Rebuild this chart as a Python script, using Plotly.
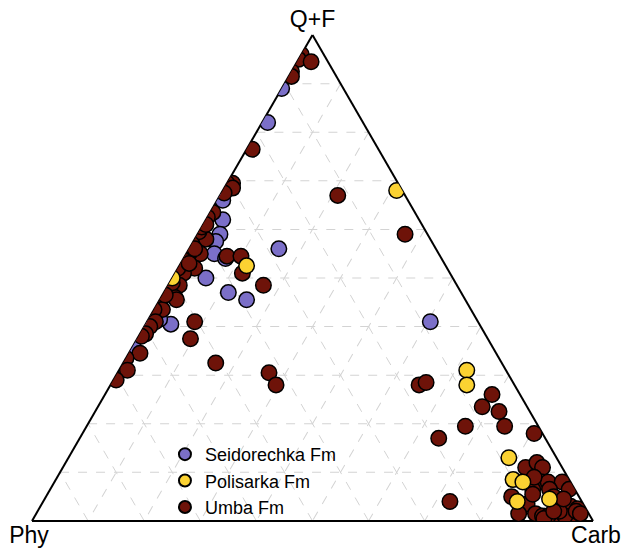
import plotly.graph_objects as go

# Ternary compositions (percent): Q+F, Carb, Phy
seid_qf   = [89, 82, 66, 62, 59, 57.5, 55, 54, 50, 56, 47, 45.5, 41, 40.5, 36, 41, 41.5]
seid_carb = [0, 1, 1, 3, 4, 4, 5, 7.5, 6, 16, 11.5, 15.5, 0, 4.5, 0, 50.5, 2]
seid_phy  = [11, 17, 33, 35, 37, 38.5, 40, 38.5, 44, 28, 41.5, 39, 59, 55, 64, 8.5, 56.5]

pol_qf   = [68, 52.5, 50, 31, 28, 13, 8.5, 8, 4, 4.5]
pol_carb = [31, 12, 0, 62, 63.5, 78.5, 81.5, 83.5, 84.5, 90]
pol_phy  = [1, 35.5, 50, 7, 8.5, 8.5, 10, 8.5, 11.5, 5.5]

umba_qf = [96, 95, 94.5, 92.5, 91.5, 76.5, 69.5, 69.5, 68.5, 67.5, 63.5, 62.5,
           58, 59.5, 57, 55, 55, 53.5, 54.5, 54.5, 51, 48.5, 52, 51, 53.5, 48.5,
           48, 46, 45.5, 44.5, 43.5, 43.5, 41, 41, 40, 38.5, 38, 37.5, 34.5, 33.5,
           31, 29, 32.5, 30.5, 28, 67, 59, 28, 28.5, 26, 23.5, 22.5, 19.5, 19.5,
           18, 17, 4,
           11, 12, 11, 8, 8, 8, 6.5, 6.5, 6.5, 5, 3.5, 3, 3, 2.5, 1.5, 1.5, 1, 1,
           1, 1, 1, 2, 5.5, 0.5, 2, 1.5, 2, 9, 5, 4.5,
           60.5, 61, 56, 52, 49, 53, 46.5]
umba_carb = [0, 0, 2.5, 0, 0.5, 1, 1, 0, 1.5, 0.5, 0.5, 0,
             2, 0, 0, 2.5, 0.5, 1, 7.5, 10, 12, 17, 3, 1.5, 0.5, 2,
             0.5, 2.5, 3, 0.5, 1.5, 0, 1.5, 8.5, 1, 1, 0.5, 9.5, 2, 0,
             1.5, 0.5, 16.5, 27, 29.5, 21, 37, 55, 56, 69, 68.5, 72, 67.5, 74.5,
             80.5, 64, 72.5,
             82.5, 84, 85.5, 87, 88, 90.5, 86, 89, 92.5, 83, 86.5, 92, 94.5, 96, 89, 86, 90.5, 93,
             95.5, 94.5, 91.5, 96, 86.5, 91, 93, 97, 92, 85, 90.5, 92.5,
             0, 0.5, 1, 0, 0.5, 1.5, 0.5]
umba_phy = [4, 5, 3, 7.5, 8, 22.5, 29.5, 30.5, 30, 32, 36, 37.5,
            40, 40.5, 43, 42.5, 44.5, 45.5, 38, 35.5, 37, 34.5, 45, 47.5, 46, 49.5,
            51.5, 51.5, 51.5, 55, 55, 56.5, 57.5, 50.5, 59, 60.5, 61.5, 53, 63.5, 66.5,
            67.5, 70.5, 51, 42.5, 42.5, 12, 4, 17, 15.5, 5, 8, 5.5, 13, 6,
            1.5, 19, 23.5,
            6.5, 4, 3.5, 5, 4, 1.5, 7.5, 4.5, 1, 12, 10, 5, 2.5, 1.5, 9.5, 12.5, 8.5, 6,
            3.5, 4.5, 7.5, 2, 8, 8.5, 5, 1.5, 6, 6, 4.5, 3,
            39.5, 38.5, 43, 48, 50.5, 45.5, 53]

series = [
    ("Seidorechka Fm", seid_qf, seid_carb, seid_phy, "#7B6FC8", 1),
    ("Umba Fm", umba_qf, umba_carb, umba_phy, "#6E1309", 3),
    ("Polisarka Fm", pol_qf, pol_carb, pol_phy, "#FBD232", 2),
]

fig = go.Figure()
for name, a, c, b, col, rank in series:
    fig.add_trace(go.Scatterternary(
        a=a, b=b, c=c, mode="markers", name=name, legendrank=rank,
        marker=dict(size=15.5, color=col, line=dict(color="black", width=1.5)),
    ))

axis_common = dict(
    showticklabels=False, ticks="", showline=True, linecolor="black", linewidth=2,
    showgrid=True, gridcolor="#d3d3d3", gridwidth=1, griddash="dash", dtick=10,
    min=0, layer="below traces",
)

fig.update_layout(
    width=622, height=552,
    margin=dict(l=32, r=29, t=35, b=31),
    paper_bgcolor="white",
    font=dict(family="Arial, Liberation Sans, sans-serif", color="black"),
    ternary=dict(
        sum=100, bgcolor="white",
        aaxis=dict(title=dict(text="Q+F", font=dict(size=23)), **axis_common),
        baxis=dict(title=dict(text="Phy", font=dict(size=23)), **axis_common),
        caxis=dict(title=dict(text="Carb", font=dict(size=23)), **axis_common),
    ),
    legend=dict(x=0.237, y=0.175, xanchor="left", yanchor="top",
                bgcolor="rgba(0,0,0,0)", font=dict(size=18), tracegroupgap=0,
                itemsizing="constant"),
    showlegend=True,
)

fig.write_html(
    "out.html",
    config={"displayModeBar": False},
    post_script="document.body.style.margin='0px';document.body.style.overflow='hidden';",
)
